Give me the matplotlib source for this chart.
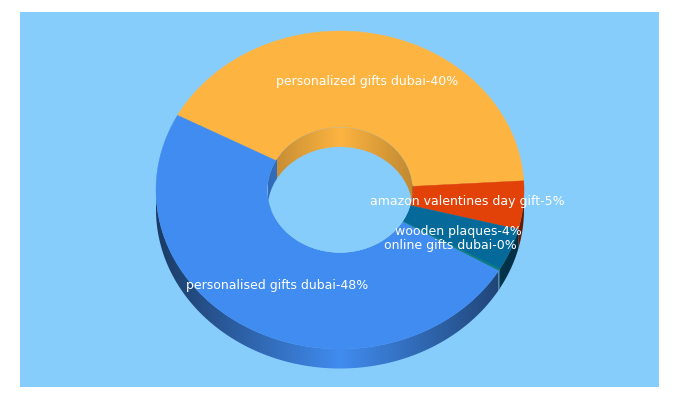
#!/usr/bin/env python3
import numpy as np
import matplotlib
matplotlib.use("Agg")
import matplotlib.pyplot as plt
from matplotlib.colors import to_rgb
from matplotlib.patches import Ellipse, Polygon, Rectangle

labels = ["personalized gifts dubai-40%", "amazon valentines day gift-5%",
          "wooden plaques-4%", "online gifts dubai-0%", "personalised gifts dubai-48%"]
shares = [41.3, 4.9, 4.3, 0.2, 49.3]
colors = ["#FDB441", "#E24208", "#056A9A", "#0A7D7A", "#418CF0"]
label_x = [367, 467, 458, 450, 277]
label_y = [81, 202, 232, 245, 286]

bg = "#87CDFB"
start = 152
cx, cy = 340, 190
rx, ry = 184, 159
hole_rx, hole_ry = 72.5, 62.6
depth = 19.5


def ring(r_x, r_y, a):
    return cx + r_x * np.cos(a), cy - r_y * np.sin(a)


def wall(ax, color, a0, a1, r_x, r_y, k, zorder, clip=None):
    # side of the donut: horizontal gradient clipped to the slice's band
    t = np.radians(np.linspace(a0, a1, max(int(abs(a1 - a0) * 2), 2)))
    x, y = ring(r_x, r_y, t)
    if clip is None:
        pts = np.column_stack([np.concatenate([x, x[::-1]]),
                               np.concatenate([y, y[::-1] + depth])])
        clip = Polygon(pts, facecolor="none", edgecolor="none")
        ax.add_patch(clip)
    xs = np.linspace(x.min(), x.max(), 400)
    cos = np.clip(np.abs(xs - cx) / r_x, 0, 1)
    grad = (1 - k * cos)[:, None] * np.array(to_rgb(color))
    im = ax.imshow(grad[None, :, :], extent=(xs[0], xs[-1], y.max() + depth + 1, y.min() - 1),
                   aspect="auto", interpolation="bilinear", zorder=zorder)
    im.set_clip_path(clip)


fig = plt.figure(figsize=(6.8, 4), dpi=100)
ax = fig.add_axes([0, 0, 1, 1])
ax.add_patch(Rectangle((20, 12), 639, 375, facecolor=bg, edgecolor="none", zorder=-1))

# slice angles, clockwise from the start angle
ends = start - np.cumsum(shares) * 3.6
begins = np.concatenate([[start], ends[:-1]])

# outer wall, front half only
for color, a0, a1 in zip(colors, begins, ends):
    for lo, hi in [(a1, a0), (a1 + 360, a0 + 360)]:
        lo2, hi2 = max(lo, 180), min(hi, 360)
        if hi2 > lo2:
            wall(ax, color, hi2, lo2, rx, ry, 0.58, 0)

# top face
for color, a0, a1 in zip(colors, begins, ends):
    t = np.radians(np.linspace(a0, a1, max(int(abs(a1 - a0) * 2), 2)))
    ox, oy = ring(rx, ry, t)
    ix, iy = ring(hole_rx, hole_ry, t[::-1])
    pts = np.column_stack([np.concatenate([ox, ix]), np.concatenate([oy, iy])])
    ax.add_patch(Polygon(pts, facecolor=color, edgecolor=color, linewidth=0.3, zorder=1))

# hole with the inner wall at the back
hole = Ellipse((cx, cy), hole_rx * 2, hole_ry * 2, facecolor=bg, edgecolor="none", zorder=2)
ax.add_patch(hole)
for color, a0, a1 in zip(colors, begins, ends):
    for lo, hi in [(a1, a0), (a1 + 360, a0 + 360)]:
        lo2, hi2 = max(lo, 0), min(hi, 180)
        if hi2 > lo2:
            wall(ax, color, hi2, lo2, hole_rx, hole_ry, 0.24, 3, clip=hole)
# floor of the hole covers what the gradients leave below the back wall
floor = Ellipse((cx, cy + depth), hole_rx * 2, hole_ry * 2, facecolor=bg, edgecolor="none", zorder=4)
ax.add_patch(floor)
floor.set_clip_path(hole)

for name, x, y in zip(labels, label_x, label_y):
    ax.text(x, y, name, color="white", fontsize=9.0, ha="center", va="center",
            family="DejaVu Sans", zorder=5)

ax.set_xlim(0, 680)
ax.set_ylim(400, 0)
ax.axis("off")
fig.savefig("out.png", dpi=100, facecolor="white")
